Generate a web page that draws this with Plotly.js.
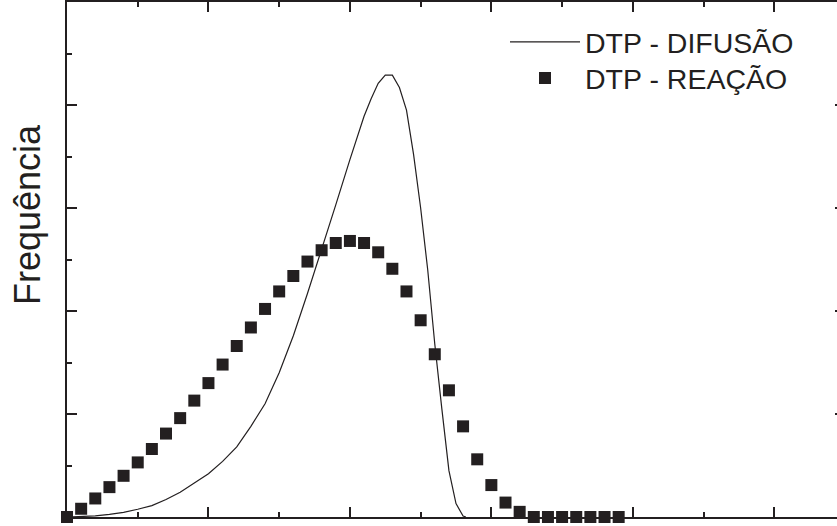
<!DOCTYPE html>
<html>
<head>
<meta charset="utf-8">
<script src="https://cdn.plot.ly/plotly-3.0.1.min.js"></script>
<style>
  html, body { margin: 0; padding: 0; overflow: hidden; background: #fff; }
  #chart { width: 850px; height: 526px; }
</style>
</head>
<body>
<div id="chart"></div>
<script>
// Distribuição de tamanho de partículas (DTP): modelo de difusão (curva)
// e modelo de reação (pontos).
const difusaoX = [0, 0.1, 0.2, 0.3, 0.4, 0.5, 0.6, 0.7, 0.8, 0.9,
                  1.0, 1.1, 1.2, 1.3, 1.4, 1.5, 1.6, 1.7, 1.8, 1.9,
                  2.0, 2.1, 2.15, 2.2, 2.25, 2.3, 2.35, 2.4, 2.45, 2.5,
                  2.55, 2.6, 2.65, 2.7, 2.75, 2.8, 2.82];
const difusaoY = [0, 0.003, 0.01, 0.025, 0.045, 0.075, 0.11, 0.17, 0.24, 0.33,
                  0.42, 0.54, 0.68, 0.88, 1.10, 1.40, 1.76, 2.17, 2.59, 3.03,
                  3.47, 3.89, 4.06, 4.21, 4.29, 4.29, 4.17, 3.95, 3.52, 3.00,
                  2.40, 1.68, 1.05, 0.45, 0.13, 0.01, 0];

const reacaoX = [0, 0.1, 0.2, 0.3, 0.4, 0.5, 0.6, 0.7, 0.8, 0.9,
                 1.0, 1.1, 1.2, 1.3, 1.4, 1.5, 1.6, 1.7, 1.8, 1.9,
                 2.0, 2.1, 2.2, 2.3, 2.4, 2.5, 2.6, 2.7, 2.8, 2.9,
                 3.0, 3.1, 3.2, 3.3, 3.4, 3.5, 3.6, 3.7, 3.8, 3.9];
const reacaoY = [0, 0.08, 0.18, 0.29, 0.40, 0.53, 0.66, 0.81, 0.96, 1.13,
                 1.30, 1.48, 1.66, 1.84, 2.02, 2.19, 2.34, 2.48, 2.59, 2.66,
                 2.68, 2.66, 2.57, 2.41, 2.19, 1.91, 1.58, 1.23, 0.88, 0.56,
                 0.31, 0.14, 0.05, 0, 0, 0, 0, 0, 0, 0];

const serieNomes = ['DTP - DIFUSÃO', 'DTP - REAÇÃO'];
const tituloY = 'Frequência';

const X_RANGE = [0, 5.5];
const Y_RANGE = [0, 5];

const INK = '#231f20';
const FONT = 'Liberation Sans, Arial, Helvetica, sans-serif';

const traces = [
  {
    x: difusaoX, y: difusaoY, name: serieNomes[0],
    type: 'scatter', mode: 'lines',
    line: { color: INK, width: 1.2 },
    cliponaxis: false,
    legend: 'legend'
  },
  {
    x: reacaoX, y: reacaoY, name: serieNomes[1],
    type: 'scatter', mode: 'markers',
    marker: { symbol: 'square', size: 12, color: INK, line: { width: 0 } },
    cliponaxis: false,
    legend: 'legend2'
  }
];

// Boxed frame: major ticks every unit, minor every half unit, all pointing inward,
// repeated on the opposite edge.
function axisStyle(range, dtick) {
  return {
    range: range, dtick: dtick, tick0: 0,
    showline: true, linewidth: 2, linecolor: INK,
    mirror: 'allticks',
    ticks: 'inside', ticklen: 10, tickwidth: 2, tickcolor: INK,
    showticklabels: false, showgrid: false, zeroline: false,
    minor: { ticks: 'inside', ticklen: 5, tickwidth: 2, tickcolor: INK,
             dtick: dtick / 2, showgrid: false },
    fixedrange: true
  };
}

function legendBox(yTop) {
  return {
    x: (505 - 67) / 778, y: yTop, xanchor: 'left', yanchor: 'top',
    bgcolor: 'rgba(0,0,0,0)', borderwidth: 0,
    itemwidth: 70,
    font: { family: FONT, size: 28.5, color: INK }
  };
}

const layout = {
  width: 850, height: 526,
  margin: { l: 67, r: 5, t: 2, b: 9 },
  paper_bgcolor: '#fff', plot_bgcolor: '#fff',
  font: { family: FONT, color: INK },
  xaxis: axisStyle(X_RANGE, 1),
  yaxis: axisStyle(Y_RANGE, 1),
  showlegend: true,
  legend: legendBox(0.971),
  legend2: legendBox(0.901),
  annotations: [{
    text: tituloY, textangle: -90,
    xref: 'paper', yref: 'paper',
    x: (28 - 67) / 778, y: (517 - 215) / 515,
    xanchor: 'center', yanchor: 'middle',
    showarrow: false,
    font: { family: FONT, size: 36, color: INK }
  }]
};

Plotly.newPlot('chart', traces, layout, { staticPlot: true, displayModeBar: false });
</script>
</body>
</html>
